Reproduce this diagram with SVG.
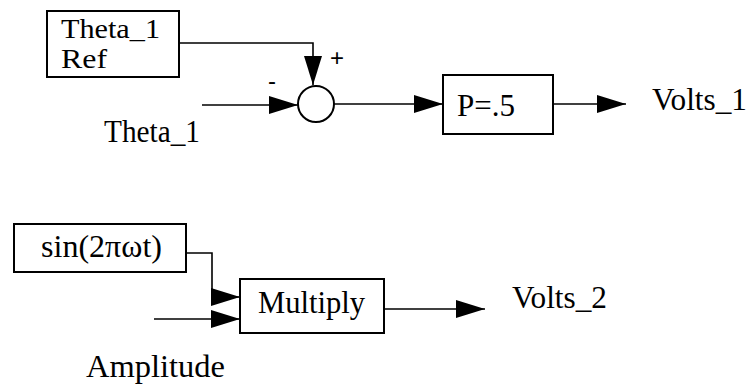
<svg xmlns="http://www.w3.org/2000/svg" width="748" height="384" viewBox="0 0 748 384">
<style>
.box{fill:#fff;stroke:#000;stroke-width:2}
.t{font-family:"Liberation Serif","Times New Roman",serif;font-size:31px;fill:#000}
.r{font-size:27px}
.s{font-family:"Liberation Sans",Arial,sans-serif;font-size:24px;fill:#000}
.c{fill:none;stroke:#000;stroke-width:1.6}
</style>
<defs>
<marker id="ah" markerUnits="userSpaceOnUse" markerWidth="30" markerHeight="18" refX="29" refY="9" orient="auto">
<path d="M0,0 L29,9 L0,18 z" fill="#000"/>
</marker>
</defs>
<rect width="748" height="384" fill="#fff"/>
<g id="connectors">
<path class="c" d="M179,43 H313 V85" marker-end="url(#ah)"/>
<path class="c" d="M202,105 H298" marker-end="url(#ah)"/>
<path class="c" d="M334,104 H443" marker-end="url(#ah)"/>
<path class="c" d="M553,104 H626" marker-end="url(#ah)"/>
<path class="c" d="M186,253 H212 V297 H240" marker-end="url(#ah)"/>
<path class="c" d="M154,319 H240" marker-end="url(#ah)"/>
<path class="c" d="M384,309 H485" marker-end="url(#ah)"/>
</g>
<g id="theta_ref">
<rect class="box" x="47" y="11" width="132" height="66"/>
<text class="t r" x="61" y="38" textLength="99" lengthAdjust="spacingAndGlyphs">Theta_1</text>
<text class="t r" x="61" y="68" textLength="46" lengthAdjust="spacingAndGlyphs">Ref</text>
</g>
<g id="sum">
<circle cx="316" cy="104" r="18" fill="#fff" stroke="#000" stroke-width="2"/>
<text class="s" x="337" y="66" text-anchor="middle">+</text>
<text class="s" x="272" y="89" text-anchor="middle">-</text>
</g>
<g id="theta_in">
<text class="t" x="104" y="142" textLength="96" lengthAdjust="spacingAndGlyphs">Theta_1</text>
</g>
<g id="gain">
<rect class="box" x="443" y="75" width="110" height="59"/>
<text class="t" x="457" y="116" textLength="58" lengthAdjust="spacingAndGlyphs">P=.5</text>
</g>
<g id="volts1">
<text class="t" x="652" y="110" textLength="95" lengthAdjust="spacingAndGlyphs">Volts_1</text>
</g>
<g id="sine">
<rect class="box" x="14" y="224" width="172" height="48"/>
<text class="t" x="41" y="257" textLength="121" lengthAdjust="spacingAndGlyphs">sin(2πωt)</text>
</g>
<g id="multiply">
<rect class="box" x="240" y="279" width="144" height="54"/>
<text class="t" x="258" y="313" textLength="107" lengthAdjust="spacingAndGlyphs">Multiply</text>
</g>
<g id="volts2">
<text class="t" x="512" y="308" textLength="95" lengthAdjust="spacingAndGlyphs">Volts_2</text>
</g>
<g id="amplitude">
<text class="t" x="86" y="377" textLength="139" lengthAdjust="spacingAndGlyphs">Amplitude</text>
</g>
</svg>
